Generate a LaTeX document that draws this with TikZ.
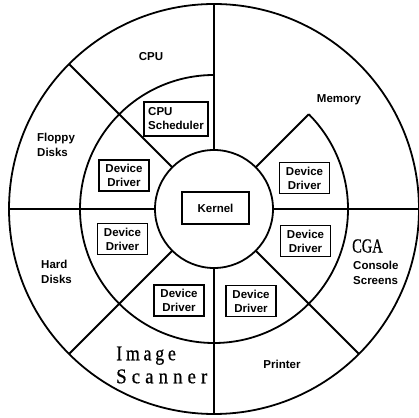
\documentclass[tikz,border=0pt]{standalone}
\usepackage{fontspec}
\usetikzlibrary{calc}
\setmainfont{Liberation Sans}
\newfontfamily\condserif[FakeStretch=0.72,FakeBold=0.6]{Liberation Serif}
\newfontfamily\spacedserif[FakeStretch=0.85,LetterSpace=18,FakeBold=0.6]{Liberation Serif}
\newfontfamily\widespacedserif[FakeStretch=0.9,LetterSpace=24,FakeBold=0.6]{Liberation Serif}
\begin{document}
\begin{tikzpicture}[x=1pt,y=1pt,
  ring/.style={line width=1.8pt},
  box/.style={draw,line width=1.5pt,font=\fontsize{11.5}{14}\selectfont\bfseries,align=center,inner sep=0pt},
  ddbox/.style={box,minimum width=50pt,minimum height=31pt},
  lbl/.style={font=\fontsize{11.5}{15}\selectfont\bfseries,inner sep=0pt}]
\useasboundingbox (0,0) rectangle (419,417);
\coordinate (C) at (214,208);
% circles and arcs
\draw[ring] (C) circle (205);
\draw[ring] (C) circle (59);
\draw[ring] ($(C)+(90:134)$) arc (90:405:134);
% spokes
\foreach \a in {0,90,135,180,225,270,315}{
  \draw[ring] ($(C)+(\a:59)$) -- ($(C)+(\a:205)$);
}
\draw[ring] ($(C)+(45:59)$) -- ($(C)+(45:134)$);
% boxes
\node[box,minimum width=67pt,minimum height=32pt] (kernel) at (215.5,209) {Kernel};
\node[box,minimum width=64pt,minimum height=34pt,align=left] (sched) at (176,298) {CPU\\Scheduler};
\node[ddbox] (dd1) at (124,241.5) {Device\\Driver};
\node[ddbox] (dd2) at (304.5,239) {Device\\Driver};
\node[ddbox] (dd3) at (305.5,176) {Device\\Driver};
\node[ddbox] (dd4) at (251,116) {Device\\Driver};
\node[ddbox] (dd5) at (122.5,178) {Device\\Driver};
\node[ddbox] (dd6) at (179,116.5) {Device\\Driver};
% labels
\node[lbl] (cpu) at (151,360) {CPU};
\node[lbl] (mem) at (339,317) {Memory};
\node[lbl,align=left,anchor=west] (floppy) at (37,272) {Floppy\\Disks};
\node[lbl,align=left,anchor=west] (hard) at (41,145) {Hard\\Disks};
\node[lbl] (printer) at (282,53) {Printer};
\node[anchor=west,inner sep=0pt,font=\fontsize{20}{20}\condserif] (cga) at (352,171) {CGA};
\node[lbl,align=left,anchor=west] (console) at (353,144) {Console\\Screens};
\node[anchor=west,inner sep=0pt,font=\fontsize{21}{23}\spacedserif,align=left] (scan) at (116,52) {Image\\{\widespacedserif Scanner}};
\end{tikzpicture}
\end{document}
